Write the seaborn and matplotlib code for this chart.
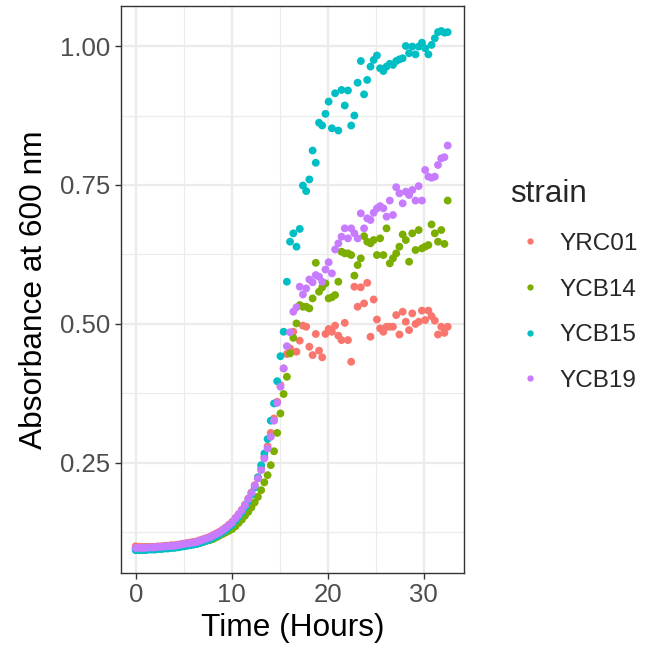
import numpy as np
import pandas as pd
import matplotlib
matplotlib.use("Agg")
import matplotlib.pyplot as plt
import seaborn as sns
from matplotlib.ticker import FixedLocator, FormatStrFormatter

hours = [0.0, 0.34, 0.67, 1.0, 1.34, 1.68, 2.01, 2.35, 2.68, 3.02,
         3.35, 3.69, 4.02, 4.36, 4.69, 5.03, 5.36, 5.7, 6.03, 6.37,
         6.7, 7.04, 7.37, 7.71, 8.04, 8.38, 8.71, 9.05, 9.38, 9.72,
         10.05, 10.39, 10.72, 11.06, 11.39, 11.73, 12.06, 12.4, 12.73, 13.07,
         13.4, 13.74, 14.07, 14.41, 14.74, 15.08, 15.41, 15.75, 16.08, 16.42,
         16.75, 17.09, 17.42, 17.76, 18.09, 18.43, 18.76, 19.1, 19.43, 19.77,
         20.1, 20.44, 20.77, 21.11, 21.44, 21.78, 22.11, 22.45, 22.78, 23.12,
         23.45, 23.79, 24.12, 24.46, 24.79, 25.13, 25.46, 25.8, 26.13, 26.47,
         26.8, 27.14, 27.47, 27.81, 28.14, 28.48, 28.81, 29.15, 29.48, 29.82,
         30.15, 30.49, 30.82, 31.16, 31.49, 31.83, 32.16, 32.5]

yrc01 = [0.100, 0.099, 0.099, 0.099, 0.099, 0.099, 0.099, 0.100, 0.100, 0.101,
         0.101, 0.102, 0.102, 0.103, 0.104, 0.105, 0.106, 0.107, 0.108, 0.109,
         0.111, 0.113, 0.115, 0.117, 0.120, 0.123, 0.126, 0.130, 0.134, 0.139,
         0.144, 0.151, 0.158, 0.166, 0.175, 0.186, 0.197, 0.210, 0.224, 0.240,
         0.260, 0.280, 0.304, 0.330, 0.360, 0.390, 0.420, 0.446, 0.456, 0.486,
         0.450, 0.470, 0.497, 0.495, 0.459, 0.444, 0.482, 0.452, 0.440, 0.482,
         0.491, 0.486, 0.497, 0.479, 0.471, 0.502, 0.471, 0.432, 0.567, 0.531,
         0.566, 0.537, 0.574, 0.477, 0.544, 0.508, 0.492, 0.486, 0.495, 0.495,
         0.495, 0.516, 0.481, 0.522, 0.504, 0.489, 0.519, 0.500, 0.504, 0.524,
         0.507, 0.524, 0.514, 0.506, 0.481, 0.495, 0.484, 0.495]

ycb14 = [0.095, 0.095, 0.095, 0.095, 0.096, 0.096, 0.096, 0.097, 0.097, 0.097,
         0.098, 0.098, 0.099, 0.099, 0.100, 0.101, 0.102, 0.103, 0.104, 0.105,
         0.106, 0.108, 0.110, 0.111, 0.113, 0.116, 0.119, 0.122, 0.125, 0.128,
         0.131, 0.136, 0.142, 0.148, 0.155, 0.162, 0.170, 0.179, 0.189, 0.201,
         0.215, 0.228, 0.246, 0.271, 0.304, 0.339, 0.374, 0.405, 0.447, 0.475,
         0.501, 0.534, 0.531, 0.531, 0.528, 0.546, 0.610, 0.558, 0.566, 0.573,
         0.546, 0.548, 0.552, 0.576, 0.630, 0.627, 0.627, 0.624, 0.587, 0.606,
         0.618, 0.658, 0.648, 0.645, 0.651, 0.624, 0.654, 0.624, 0.672, 0.609,
         0.618, 0.627, 0.639, 0.661, 0.651, 0.612, 0.663, 0.633, 0.669, 0.636,
         0.639, 0.642, 0.679, 0.663, 0.648, 0.669, 0.644, 0.722]

ycb15 = [0.093, 0.093, 0.093, 0.093, 0.094, 0.094, 0.094, 0.095, 0.095, 0.096,
         0.096, 0.097, 0.097, 0.098, 0.099, 0.100, 0.101, 0.102, 0.103, 0.104,
         0.106, 0.108, 0.110, 0.112, 0.115, 0.118, 0.121, 0.125, 0.129, 0.134,
         0.139, 0.146, 0.153, 0.161, 0.170, 0.181, 0.193, 0.206, 0.224, 0.246,
         0.267, 0.293, 0.326, 0.357, 0.397, 0.442, 0.486, 0.576, 0.648, 0.663,
         0.639, 0.671, 0.749, 0.739, 0.760, 0.812, 0.790, 0.862, 0.857, 0.878,
         0.900, 0.852, 0.915, 0.848, 0.921, 0.893, 0.920, 0.857, 0.875, 0.934,
         0.973, 0.913, 0.939, 0.963, 0.975, 0.983, 0.960, 0.955, 0.963, 0.968,
         0.966, 0.973, 0.976, 0.978, 1.000, 0.987, 0.999, 0.985, 0.999, 1.006,
         0.996, 0.985, 1.002, 1.014, 1.025, 1.027, 1.024, 1.025]

ycb19 = [0.097, 0.097, 0.097, 0.097, 0.098, 0.098, 0.098, 0.099, 0.099, 0.100,
         0.100, 0.101, 0.101, 0.102, 0.103, 0.104, 0.105, 0.106, 0.107, 0.108,
         0.110, 0.112, 0.114, 0.116, 0.119, 0.122, 0.125, 0.129, 0.133, 0.138,
         0.143, 0.150, 0.157, 0.165, 0.174, 0.185, 0.196, 0.209, 0.222, 0.237,
         0.258, 0.276, 0.297, 0.326, 0.358, 0.387, 0.420, 0.460, 0.485, 0.522,
         0.530, 0.567, 0.553, 0.564, 0.580, 0.575, 0.588, 0.585, 0.576, 0.598,
         0.611, 0.591, 0.634, 0.645, 0.657, 0.672, 0.654, 0.672, 0.663, 0.654,
         0.699, 0.672, 0.690, 0.687, 0.700, 0.708, 0.712, 0.708, 0.693, 0.722,
         0.696, 0.746, 0.735, 0.717, 0.738, 0.732, 0.741, 0.722, 0.748, 0.722,
         0.777, 0.765, 0.763, 0.765, 0.786, 0.798, 0.800, 0.821]

strains = ["YRC01", "YCB14", "YCB15", "YCB19"]
palette = ["#F8766D", "#7CAE00", "#00BFC4", "#C77CFF"]
x_ticks = [0, 10, 20, 30]
y_ticks = [0.25, 0.50, 0.75, 1.00]

frames = []
for name, vals in zip(strains, [yrc01, ycb14, ycb15, ycb19]):
    frames.append(pd.DataFrame({"time": hours, "absorbance": vals, "strain": name}))
df = pd.concat(frames, ignore_index=True)

sns.set_theme(style="white")
plt.rcParams["font.family"] = ["Liberation Sans", "DejaVu Sans"]

fig = plt.figure(figsize=(6.47, 6.55), dpi=100)
ax = fig.add_axes([121 / 647, 1 - 573 / 655, (464 - 121) / 647, (573 - 6) / 655])

sns.scatterplot(data=df, x="time", y="absorbance", hue="strain",
                hue_order=strains, palette=palette, s=32, linewidth=0,
                alpha=1, ax=ax, zorder=3)

ax.set_xlim(-1.53, 34.2)
ax.set_ylim(0.052, 1.072)
ax.xaxis.set_major_locator(FixedLocator(x_ticks))
ax.xaxis.set_minor_locator(FixedLocator([5, 15, 25]))
ax.yaxis.set_major_locator(FixedLocator(y_ticks))
ax.yaxis.set_minor_locator(FixedLocator([0.125, 0.375, 0.625, 0.875]))
ax.yaxis.set_major_formatter(FormatStrFormatter("%.2f"))

ax.grid(which="major", color="#EBEBEB", linewidth=1.6, zorder=0)
ax.grid(which="minor", color="#EBEBEB", linewidth=0.8, zorder=0)
ax.set_axisbelow(True)
for sp in ax.spines.values():
    sp.set_color("#333333")
    sp.set_linewidth(1.0)

ax.tick_params(axis="both", which="major", length=4.5, width=1.0, color="#333333",
               labelsize=18.5, labelcolor="#4D4D4D", pad=3,
               bottom=True, left=True)
ax.tick_params(axis="both", which="minor", length=0)

ax.set_xlabel("Time (Hours)", fontsize=22.8, color="black", labelpad=4)
ax.set_ylabel("Absorbance at 600 nm", fontsize=22.8, color="black", labelpad=8)

sns.move_legend(ax, loc="center left", bbox_to_anchor=(1.106, 0.507),
                frameon=False, title="strain", fontsize=17.5,
                title_fontsize=22.6, alignment="left",
                markerscale=0.8, handlelength=1.6, handletextpad=0.45,
                labelspacing=0.97, borderaxespad=0)

fig.savefig("out.png", dpi=100, facecolor="white")
